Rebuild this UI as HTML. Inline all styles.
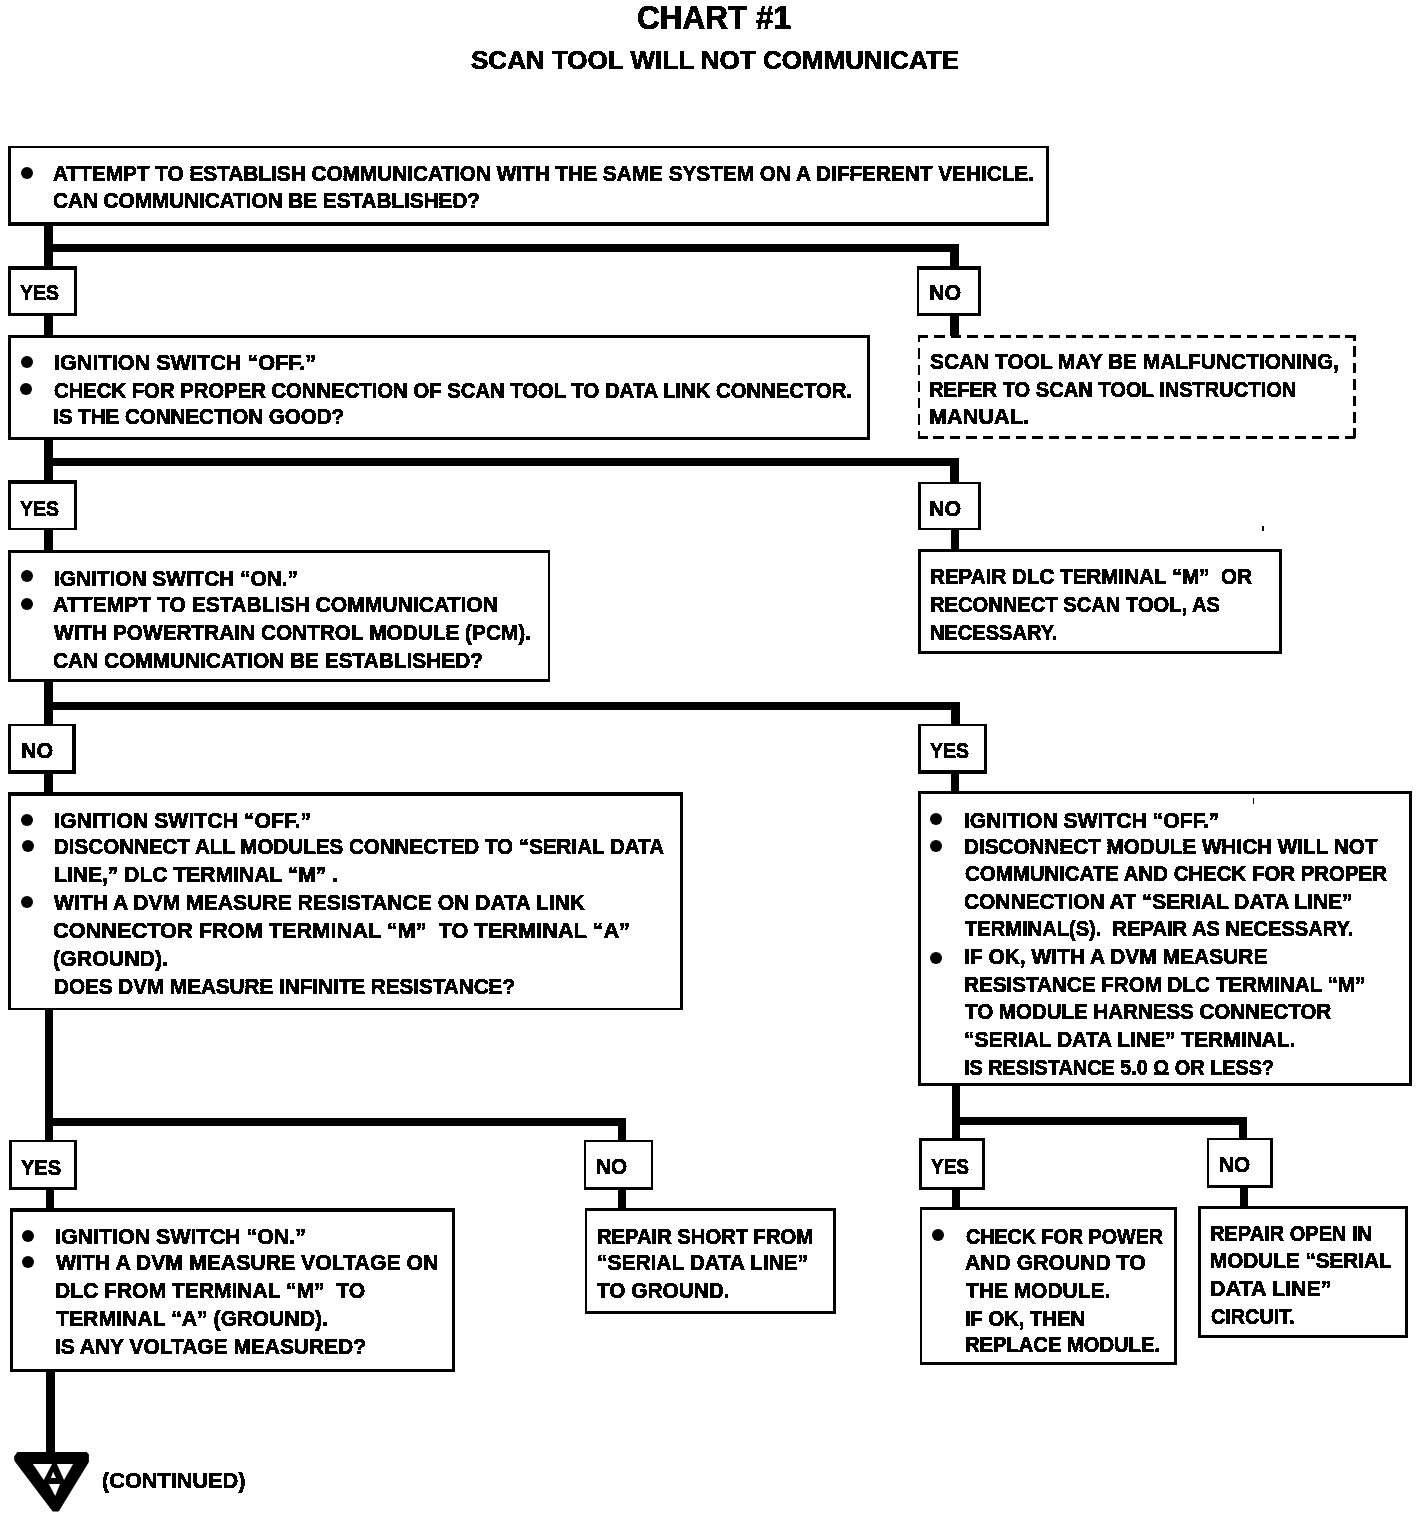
<!DOCTYPE html>
<html><head><meta charset="utf-8"><style>
html,body{margin:0;padding:0;background:#fff;}
body{width:1424px;height:1518px;position:relative;overflow:hidden;font-family:"Liberation Sans",sans-serif;font-weight:bold;color:#000;}
.t{position:absolute;white-space:pre;transform-origin:0 0;line-height:1;-webkit-text-stroke:0.7px #000;}
.r{position:absolute;background:#000;}
.bx{position:absolute;box-sizing:border-box;border-style:solid;border-color:#000;}
.bu{position:absolute;width:12px;height:12px;border-radius:50%;background:#000;}
</style></head><body>

<div class="bx" style="left:8px;top:146px;width:1041px;height:80px;border-width:2px 3px 4px 3px"></div>
<div class="bx" style="left:8px;top:335px;width:862px;height:104.5px;border-width:3px 3px 3.5px 3px"></div>
<div class="bx" style="left:8px;top:550px;width:541.5px;height:131.5px;border-width:3.5px 2.5px 3px 3px"></div>
<div class="bx" style="left:918px;top:548.5px;width:363.6px;height:105.3px;border-width:3.5px 3px 3.5px 3px"></div>
<div class="bx" style="left:8px;top:792px;width:675px;height:218px;border-width:4px 3px 2.5px 3px"></div>
<div class="bx" style="left:918px;top:790.5px;width:494px;height:295.5px;border-width:3.5px 3px 3.5px 3.5px"></div>
<div class="bx" style="left:10px;top:1208px;width:445px;height:163.5px;border-width:4px 3px 3.5px 3px"></div>
<div class="bx" style="left:584.5px;top:1208px;width:251.5px;height:105.7px;border-width:3.5px 3px 3.5px 2.5px"></div>
<div class="bx" style="left:920px;top:1207px;width:257px;height:157.5px;border-width:3.5px 3px 3px 2.6px"></div>
<div class="bx" style="left:1198.2px;top:1206px;width:209.8px;height:132px;border-width:3.5px 3.2px 3.7px 3px"></div>
<div class="bx" style="left:8px;top:266px;width:69px;height:50px;border-width:4px 3px 3.7px 3px"></div>
<div class="bx" style="left:917px;top:266px;width:64px;height:50px;border-width:4px 3.5px 3.7px 2.5px"></div>
<div class="bx" style="left:8px;top:480px;width:69px;height:50px;border-width:4px 3px 2px 3px"></div>
<div class="bx" style="left:918px;top:482px;width:63px;height:48px;border-width:2px 3px 2px 3px"></div>
<div class="bx" style="left:8px;top:724px;width:68px;height:50px;border-width:2px 4px 4px 3px"></div>
<div class="bx" style="left:918px;top:724px;width:69.4px;height:50px;border-width:2px 3px 4px 3px"></div>
<div class="bx" style="left:9px;top:1140px;width:68px;height:50px;border-width:2px 3.7px 3.7px 3.5px"></div>
<div class="bx" style="left:584.2px;top:1140px;width:68.6px;height:50px;border-width:2px 2.8px 3.7px 2.5px"></div>
<div class="bx" style="left:919px;top:1138px;width:66px;height:51.6px;border-width:3.7px 3px 3.6px 3px"></div>
<div class="bx" style="left:1206.5px;top:1138px;width:66.1px;height:49.7px;border-width:2px 3.3px 3.7px 2.5px"></div>
<div class="r" style="left:44px;top:226px;width:8.5px;height:40px"></div>
<div class="r" style="left:44px;top:244px;width:914.5px;height:8px"></div>
<div class="r" style="left:950px;top:244px;width:8.5px;height:22px"></div>
<div class="r" style="left:44px;top:316px;width:8.5px;height:19px"></div>
<div class="r" style="left:950px;top:316px;width:8.5px;height:20px"></div>
<div class="r" style="left:44px;top:439px;width:8.5px;height:41px"></div>
<div class="r" style="left:44px;top:458px;width:914.5px;height:8px"></div>
<div class="r" style="left:950px;top:458px;width:9px;height:24px"></div>
<div class="r" style="left:44px;top:529px;width:8.5px;height:21px"></div>
<div class="r" style="left:951px;top:530px;width:8px;height:20px"></div>
<div class="r" style="left:44px;top:681px;width:9px;height:43px"></div>
<div class="r" style="left:44px;top:702px;width:915px;height:8px"></div>
<div class="r" style="left:951px;top:702px;width:8.5px;height:22px"></div>
<div class="r" style="left:44px;top:773px;width:9px;height:19px"></div>
<div class="r" style="left:951px;top:773px;width:8px;height:18px"></div>
<div class="r" style="left:45px;top:1009px;width:8px;height:131px"></div>
<div class="r" style="left:45px;top:1118px;width:581px;height:7.7px"></div>
<div class="r" style="left:618px;top:1118px;width:8px;height:22px"></div>
<div class="r" style="left:46px;top:1189px;width:8px;height:19px"></div>
<div class="r" style="left:618px;top:1189px;width:8px;height:19px"></div>
<div class="r" style="left:46px;top:1371px;width:8.5px;height:83px"></div>
<div class="r" style="left:952px;top:1086px;width:8.3px;height:52px"></div>
<div class="r" style="left:952px;top:1117px;width:295px;height:8px"></div>
<div class="r" style="left:1239.3px;top:1117px;width:7.7px;height:21px"></div>
<div class="r" style="left:952.3px;top:1189px;width:8.2px;height:18px"></div>
<div class="r" style="left:1240px;top:1187px;width:7.8px;height:19px"></div>
<div class="r" style="left:1253px;top:798px;width:1.3px;height:6px"></div>
<div class="r" style="left:1262px;top:526px;width:2px;height:5px"></div>
<div class="r" style="left:918.00px;top:335px;width:10.25px;height:2.5px"></div>
<div class="r" style="left:934.20px;top:335px;width:10.50px;height:2.5px"></div>
<div class="r" style="left:950.65px;top:335px;width:10.50px;height:2.5px"></div>
<div class="r" style="left:967.10px;top:335px;width:10.50px;height:2.5px"></div>
<div class="r" style="left:983.55px;top:335px;width:10.50px;height:2.5px"></div>
<div class="r" style="left:1000.00px;top:335px;width:10.50px;height:2.5px"></div>
<div class="r" style="left:1016.45px;top:335px;width:10.50px;height:2.5px"></div>
<div class="r" style="left:1032.90px;top:335px;width:10.50px;height:2.5px"></div>
<div class="r" style="left:1049.35px;top:335px;width:10.50px;height:2.5px"></div>
<div class="r" style="left:1065.80px;top:335px;width:10.50px;height:2.5px"></div>
<div class="r" style="left:1082.25px;top:335px;width:10.50px;height:2.5px"></div>
<div class="r" style="left:1098.70px;top:335px;width:10.50px;height:2.5px"></div>
<div class="r" style="left:1115.15px;top:335px;width:10.50px;height:2.5px"></div>
<div class="r" style="left:1131.60px;top:335px;width:10.50px;height:2.5px"></div>
<div class="r" style="left:1148.05px;top:335px;width:10.50px;height:2.5px"></div>
<div class="r" style="left:1164.50px;top:335px;width:10.50px;height:2.5px"></div>
<div class="r" style="left:1180.95px;top:335px;width:10.50px;height:2.5px"></div>
<div class="r" style="left:1197.40px;top:335px;width:10.50px;height:2.5px"></div>
<div class="r" style="left:1213.85px;top:335px;width:10.50px;height:2.5px"></div>
<div class="r" style="left:1230.30px;top:335px;width:10.50px;height:2.5px"></div>
<div class="r" style="left:1246.75px;top:335px;width:10.50px;height:2.5px"></div>
<div class="r" style="left:1263.20px;top:335px;width:10.50px;height:2.5px"></div>
<div class="r" style="left:1279.65px;top:335px;width:10.50px;height:2.5px"></div>
<div class="r" style="left:1296.10px;top:335px;width:10.50px;height:2.5px"></div>
<div class="r" style="left:1312.55px;top:335px;width:10.50px;height:2.5px"></div>
<div class="r" style="left:1329.00px;top:335px;width:10.50px;height:2.5px"></div>
<div class="r" style="left:1345.45px;top:335px;width:10.50px;height:2.5px"></div>
<div class="r" style="left:918.00px;top:435.5px;width:9.50px;height:3.5px"></div>
<div class="r" style="left:933.45px;top:435.5px;width:10.50px;height:3.5px"></div>
<div class="r" style="left:949.90px;top:435.5px;width:10.50px;height:3.5px"></div>
<div class="r" style="left:966.35px;top:435.5px;width:10.50px;height:3.5px"></div>
<div class="r" style="left:982.80px;top:435.5px;width:10.50px;height:3.5px"></div>
<div class="r" style="left:999.25px;top:435.5px;width:10.50px;height:3.5px"></div>
<div class="r" style="left:1015.70px;top:435.5px;width:10.50px;height:3.5px"></div>
<div class="r" style="left:1032.15px;top:435.5px;width:10.50px;height:3.5px"></div>
<div class="r" style="left:1048.60px;top:435.5px;width:10.50px;height:3.5px"></div>
<div class="r" style="left:1065.05px;top:435.5px;width:10.50px;height:3.5px"></div>
<div class="r" style="left:1081.50px;top:435.5px;width:10.50px;height:3.5px"></div>
<div class="r" style="left:1097.95px;top:435.5px;width:10.50px;height:3.5px"></div>
<div class="r" style="left:1114.40px;top:435.5px;width:10.50px;height:3.5px"></div>
<div class="r" style="left:1130.85px;top:435.5px;width:10.50px;height:3.5px"></div>
<div class="r" style="left:1147.30px;top:435.5px;width:10.50px;height:3.5px"></div>
<div class="r" style="left:1163.75px;top:435.5px;width:10.50px;height:3.5px"></div>
<div class="r" style="left:1180.20px;top:435.5px;width:10.50px;height:3.5px"></div>
<div class="r" style="left:1196.65px;top:435.5px;width:10.50px;height:3.5px"></div>
<div class="r" style="left:1213.10px;top:435.5px;width:10.50px;height:3.5px"></div>
<div class="r" style="left:1229.55px;top:435.5px;width:10.50px;height:3.5px"></div>
<div class="r" style="left:1246.00px;top:435.5px;width:10.50px;height:3.5px"></div>
<div class="r" style="left:1262.45px;top:435.5px;width:10.50px;height:3.5px"></div>
<div class="r" style="left:1278.90px;top:435.5px;width:10.50px;height:3.5px"></div>
<div class="r" style="left:1295.35px;top:435.5px;width:10.50px;height:3.5px"></div>
<div class="r" style="left:1311.80px;top:435.5px;width:10.50px;height:3.5px"></div>
<div class="r" style="left:1328.25px;top:435.5px;width:10.50px;height:3.5px"></div>
<div class="r" style="left:1344.70px;top:435.5px;width:10.50px;height:3.5px"></div>
<div class="r" style="left:918px;top:335.00px;width:2.2px;height:7.00px"></div>
<div class="r" style="left:918px;top:348.00px;width:2.2px;height:10.50px"></div>
<div class="r" style="left:918px;top:364.50px;width:2.2px;height:10.50px"></div>
<div class="r" style="left:918px;top:381.00px;width:2.2px;height:10.50px"></div>
<div class="r" style="left:918px;top:397.50px;width:2.2px;height:10.50px"></div>
<div class="r" style="left:918px;top:414.00px;width:2.2px;height:10.50px"></div>
<div class="r" style="left:918px;top:430.50px;width:2.2px;height:7.50px"></div>
<div class="r" style="left:1353px;top:335.00px;width:3px;height:5.50px"></div>
<div class="r" style="left:1353px;top:346.40px;width:3px;height:10.50px"></div>
<div class="r" style="left:1353px;top:362.80px;width:3px;height:10.50px"></div>
<div class="r" style="left:1353px;top:379.20px;width:3px;height:10.50px"></div>
<div class="r" style="left:1353px;top:395.60px;width:3px;height:10.50px"></div>
<div class="r" style="left:1353px;top:412.00px;width:3px;height:10.50px"></div>
<div class="r" style="left:1353px;top:428.40px;width:3px;height:9.60px"></div>
<div class="bu" style="left:20.5px;top:166.5px"></div>
<div class="bu" style="left:20.5px;top:356px"></div>
<div class="bu" style="left:20px;top:383px"></div>
<div class="bu" style="left:21px;top:570px"></div>
<div class="bu" style="left:21px;top:598px"></div>
<div class="bu" style="left:21px;top:814px"></div>
<div class="bu" style="left:21.5px;top:840px"></div>
<div class="bu" style="left:21px;top:896px"></div>
<div class="bu" style="left:930px;top:813px"></div>
<div class="bu" style="left:930px;top:840px"></div>
<div class="bu" style="left:930px;top:951.7px"></div>
<div class="bu" style="left:22px;top:1230px"></div>
<div class="bu" style="left:22px;top:1256px"></div>
<div class="bu" style="left:932px;top:1229px"></div>
<svg width="0" height="0" style="position:absolute"><filter id="bin" x="0" y="0" width="1" height="1"><feComponentTransfer><feFuncA type="discrete" tableValues="0 1"/></feComponentTransfer></filter></svg>
<div style="position:absolute;left:0;top:0;width:1424px;height:1518px;filter:url(#bin)">
<div class="t" style="left:52.998px;top:163.4px;font-size:22px;transform:scaleX(0.9439)">ATTEMPT TO ESTABLISH COMMUNICATION WITH THE SAME SYSTEM ON A DIFFERENT VEHICLE.</div>
<div class="t" style="left:52.9953px;top:189.9px;font-size:22px;transform:scaleX(0.9409)">CAN COMMUNICATION BE ESTABLISHED?</div>
<div class="t" style="left:53.9922px;top:351.9px;font-size:22px;transform:scaleX(0.9834)">IGNITION SWITCH “OFF.”</div>
<div class="t" style="left:54px;top:379.9px;font-size:22px;transform:scaleX(0.9217)">CHECK FOR PROPER CONNECTION OF SCAN TOOL TO DATA LINK CONNECTOR.</div>
<div class="t" style="left:52.993px;top:405.9px;font-size:22px;transform:scaleX(0.9337)">IS THE CONNECTION GOOD?</div>
<div class="t" style="left:929.999px;top:351.4px;font-size:22px;transform:scaleX(0.9497)">SCAN TOOL MAY BE MALFUNCTIONING,</div>
<div class="t" style="left:928.991px;top:379.4px;font-size:22px;transform:scaleX(0.9136)">REFER TO SCAN TOOL INSTRUCTION</div>
<div class="t" style="left:928.961px;top:405.9px;font-size:22px;transform:scaleX(0.9865)">MANUAL.</div>
<div class="t" style="left:53.9917px;top:567.6px;font-size:22px;transform:scaleX(0.9462)">IGNITION SWITCH “ON.”</div>
<div class="t" style="left:52.9955px;top:593.6px;font-size:22px;transform:scaleX(0.9590)">ATTEMPT TO ESTABLISH COMMUNICATION</div>
<div class="t" style="left:54px;top:621.7px;font-size:22px;transform:scaleX(0.9458)">WITH POWERTRAIN CONTROL MODULE (PCM).</div>
<div class="t" style="left:52.9953px;top:649.5px;font-size:22px;transform:scaleX(0.9475)">CAN COMMUNICATION BE ESTABLISHED?</div>
<div class="t" style="left:929.994px;top:566.4px;font-size:22px;transform:scaleX(0.9365)">REPAIR DLC TERMINAL “M”  OR</div>
<div class="t" style="left:929.995px;top:593.9px;font-size:22px;transform:scaleX(0.9161)">RECONNECT SCAN TOOL, AS</div>
<div class="t" style="left:929.979px;top:621.9px;font-size:22px;transform:scaleX(0.9116)">NECESSARY.</div>
<div class="t" style="left:53.9921px;top:809.9px;font-size:22px;transform:scaleX(0.9646)">IGNITION SWITCH “OFF.”</div>
<div class="t" style="left:53.9975px;top:836.4px;font-size:22px;transform:scaleX(0.9352)">DISCONNECT ALL MODULES CONNECTED TO “SERIAL DATA</div>
<div class="t" style="left:53.9929px;top:863.9px;font-size:22px;transform:scaleX(0.9576)">LINE,” DLC TERMINAL “M” .</div>
<div class="t" style="left:54px;top:891.9px;font-size:22px;transform:scaleX(0.9591)">WITH A DVM MEASURE RESISTANCE ON DATA LINK</div>
<div class="t" style="left:52.9965px;top:919.9px;font-size:22px;transform:scaleX(0.9883)">CONNECTOR FROM TERMINAL “M”  TO TERMINAL “A”</div>
<div class="t" style="left:52.9659px;top:947.7px;font-size:22px;transform:scaleX(0.9706)">(GROUND).</div>
<div class="t" style="left:53.9956px;top:975.9px;font-size:22px;transform:scaleX(0.9390)">DOES DVM MEASURE INFINITE RESISTANCE?</div>
<div class="t" style="left:963.595px;top:809.9px;font-size:22px;transform:scaleX(0.9586)">IGNITION SWITCH “OFF.”</div>
<div class="t" style="left:963.598px;top:835.9px;font-size:22px;transform:scaleX(0.9405)">DISCONNECT MODULE WHICH WILL NOT</div>
<div class="t" style="left:964.601px;top:863.4px;font-size:22px;transform:scaleX(0.9281)">COMMUNICATE AND CHECK FOR PROPER</div>
<div class="t" style="left:963.597px;top:890.9px;font-size:22px;transform:scaleX(0.9505)">CONNECTION AT “SERIAL DATA LINE”</div>
<div class="t" style="left:964.601px;top:918.4px;font-size:22px;transform:scaleX(0.9148)">TERMINAL(S).  REPAIR AS NECESSARY.</div>
<div class="t" style="left:963.596px;top:946.4px;font-size:22px;transform:scaleX(0.9523)">IF OK, WITH A DVM MEASURE</div>
<div class="t" style="left:963.597px;top:973.9px;font-size:22px;transform:scaleX(0.9375)">RESISTANCE FROM DLC TERMINAL “M”</div>
<div class="t" style="left:964.601px;top:1001.4px;font-size:22px;transform:scaleX(0.9328)">TO MODULE HARNESS CONNECTOR</div>
<div class="t" style="left:963.596px;top:1028.9px;font-size:22px;transform:scaleX(0.9537)">“SERIAL DATA LINE” TERMINAL.</div>
<div class="t" style="left:963.595px;top:1056.9px;font-size:22px;transform:scaleX(0.9021)">IS RESISTANCE 5.0 Ω OR LESS?</div>
<div class="t" style="left:54.9919px;top:1225.9px;font-size:22px;transform:scaleX(0.9733)">IGNITION SWITCH “ON.”</div>
<div class="t" style="left:56px;top:1251.9px;font-size:22px;transform:scaleX(0.9657)">WITH A DVM MEASURE VOLTAGE ON</div>
<div class="t" style="left:54.9935px;top:1279.9px;font-size:22px;transform:scaleX(0.9560)">DLC FROM TERMINAL “M”  TO</div>
<div class="t" style="left:56px;top:1307.9px;font-size:22px;transform:scaleX(0.9648)">TERMINAL “A” (GROUND).</div>
<div class="t" style="left:54.9935px;top:1335.9px;font-size:22px;transform:scaleX(0.9517)">IS ANY VOLTAGE MEASURED?</div>
<div class="t" style="left:596.991px;top:1225.9px;font-size:22px;transform:scaleX(0.9173)">REPAIR SHORT FROM</div>
<div class="t" style="left:596.99px;top:1251.9px;font-size:22px;transform:scaleX(0.9521)">“SERIAL DATA LINE”</div>
<div class="t" style="left:597px;top:1279.9px;font-size:22px;transform:scaleX(0.9462)">TO GROUND.</div>
<div class="t" style="left:966px;top:1225.6px;font-size:22px;transform:scaleX(0.8955)">CHECK FOR POWER</div>
<div class="t" style="left:964.99px;top:1251.9px;font-size:22px;transform:scaleX(0.9616)">AND GROUND TO</div>
<div class="t" style="left:966px;top:1279.9px;font-size:22px;transform:scaleX(0.9515)">THE MODULE.</div>
<div class="t" style="left:964.983px;top:1307.5px;font-size:22px;transform:scaleX(0.9178)">IF OK, THEN</div>
<div class="t" style="left:964.99px;top:1333.9px;font-size:22px;transform:scaleX(0.9169)">REPLACE MODULE.</div>
<div class="t" style="left:1210.19px;top:1223.4px;font-size:22px;transform:scaleX(0.9099)">REPAIR OPEN IN</div>
<div class="t" style="left:1210.19px;top:1249.9px;font-size:22px;transform:scaleX(0.9404)">MODULE “SERIAL</div>
<div class="t" style="left:1210.19px;top:1277.9px;font-size:22px;transform:scaleX(0.9789)">DATA LINE”</div>
<div class="t" style="left:1211.2px;top:1305.7px;font-size:22px;transform:scaleX(0.9001)">CIRCUIT.</div>
<div class="t" style="left:101.984px;top:1469.9px;font-size:22px;transform:scaleX(0.9862)">(CONTINUED)</div>
<div class="t" style="left:19.973px;top:282.4px;font-size:22px;transform:scaleX(0.8863)">YES</div>
<div class="t" style="left:928.967px;top:282.4px;font-size:22px;transform:scaleX(0.9707)">NO</div>
<div class="t" style="left:19.973px;top:497.9px;font-size:22px;transform:scaleX(0.8863)">YES</div>
<div class="t" style="left:928.967px;top:497.9px;font-size:22px;transform:scaleX(0.9707)">NO</div>
<div class="t" style="left:20.9667px;top:739.5px;font-size:22px;transform:scaleX(0.9707)">NO</div>
<div class="t" style="left:929.973px;top:739.9px;font-size:22px;transform:scaleX(0.8863)">YES</div>
<div class="t" style="left:20.9737px;top:1156.9px;font-size:22px;transform:scaleX(0.9090)">YES</div>
<div class="t" style="left:595.966px;top:1155.9px;font-size:22px;transform:scaleX(0.9404)">NO</div>
<div class="t" style="left:930.972px;top:1155.9px;font-size:22px;transform:scaleX(0.8637)">YES</div>
<div class="t" style="left:1218.97px;top:1153.9px;font-size:22px;transform:scaleX(0.9404)">NO</div>
<div class="t" style="left:637px;top:1.1px;font-size:33px;transform:scaleX(0.9544)">CHART #1</div>
<div class="t" style="left:471px;top:47.6px;font-size:25.5px;transform:scaleX(1.0202)">SCAN TOOL WILL NOT COMMUNICATE</div>
</div>
<svg style="position:absolute;left:0;top:0" width="1424" height="1518" viewBox="0 0 1424 1518">
<polygon points="17.3,1452.1 86.8,1452.1 88.9,1454.4 88.9,1461.9 59,1510.9 58.1,1511.6 52.7,1511.6 15.2,1462 14.2,1460 14.2,1456.5" fill="#000"/>
<polygon points="32.9,1464 52.1,1464 43.8,1480.1" fill="#fff"/>
<polygon points="56.9,1464 73.1,1464 64.0,1480.1" fill="#fff"/>
<polygon points="53.1,1471.7 51.0,1478.0 56.0,1478.0" fill="#fff"/>
<polygon points="48.9,1483.9 60.0,1483.9 55.2,1496.1" fill="#fff"/>
</svg>
</body></html>
